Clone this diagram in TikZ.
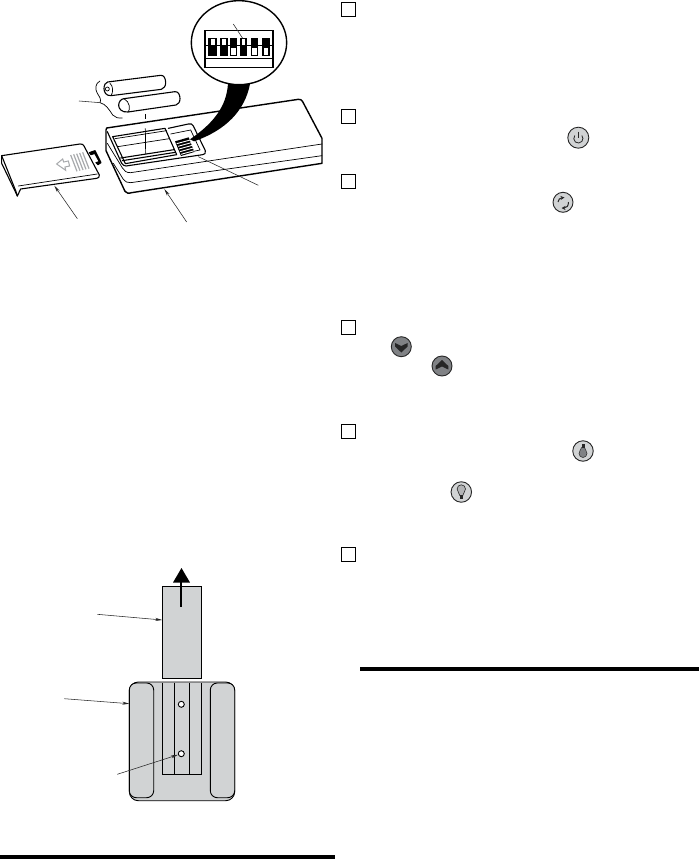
\documentclass[tikz,border=0pt]{standalone}
\usetikzlibrary{arrows.meta}
\definecolor{cardgray}{HTML}{D1D3D4}
\definecolor{dkbtn}{HTML}{808285}
\definecolor{stripe}{HTML}{A7A9AC}
\tikzset{
  ol/.style={line width=1.1pt,line join=round,line cap=round},
  th/.style={line width=0.7pt,line join=round,line cap=round},
  leader/.style={line width=0.55pt,-{Stealth[length=7pt,width=3pt]},black!85},
  plainleader/.style={line width=0.55pt,black!85},
  numbox/.style={draw,line width=1pt,minimum size=14pt,inner sep=0pt,fill=white},
  btn/.style={circle,draw=black!85,line width=0.9pt,fill=cardgray,inner sep=0pt},
  dkb/.style={circle,draw=black!85,line width=0.9pt,fill=dkbtn,inner sep=0pt},
  panel/.style={draw,line width=0.9pt,fill=cardgray},
}
\begin{document}
\begin{tikzpicture}[x=1pt,y=-1pt]
\useasboundingbox (0,0) rectangle (699,859);
\fill[white] (0,0) rectangle (699,859);

% ---------- remote, cover, batteries (coordinates from 3x crop)
\begin{scope}[scale=1/3]
  % body
  \draw[ol,line width=1.4pt] (318,390) -- (320,384) -- (895,298) .. controls (902,297) and (905,300) .. (908,305)
     -- (966,415) -- (966,490) -- (395,578) .. controls (385,581) and (380,580) .. (375,574)
     -- (318,452) -- cycle;
  \draw[th] (966,432) -- (392,518) .. controls (380,519) and (372,512) .. (368,505) -- (322,430);
  \draw[th] (966,467) -- (392,548) .. controls (382,549) and (375,545) .. (370,538) -- (340,490);
  % battery recess
  \draw[ol] (338,410) -- (495,385) -- (530,464) -- (376,491) -- cycle;
  \draw[th] (345,416) -- (500,392);
  \draw[ol] (362,474) -- (522,449);
  \draw[ol] (367,482) -- (526,457);
  \draw[th] (353,440) -- (508,416);
  % switch recess
  \draw[ol] (505,385) -- (565,372) .. controls (573,370) and (577,372) .. (580,378) -- (616,452)
     .. controls (618,460) and (614,463) .. (608,464) -- (378,498) .. controls (372,498) and (368,494) .. (365,490) -- (322,395);
  \draw[th] (512,402) -- (572,390) -- (600,450) -- (542,462);
  % small switches
  \fill[black] (525,424) -- (566,412) -- (583,456) -- (543,468) -- cycle;
  \draw[white,line width=0.9pt] (530,431) -- (571,420);
  \draw[white,line width=0.9pt] (534,439) -- (574,428);
  \draw[white,line width=0.9pt] (537,447) -- (577,436);
  \draw[white,line width=0.9pt] (540,455) -- (580,444);
  \draw[white,line width=0.9pt] (543,463) -- (583,452);
  % loupe tail
  \fill[black] (684,250) .. controls (680,320) and (640,370) .. (570,418)
     -- (582,424) .. controls (680,390) and (735,330) .. (750,252) -- cycle;
  % cover
  \draw[ol,fill=white] (5,467) -- (240,432) .. controls (247,431) and (250,434) .. (252,438)
     -- (298,525) .. controls (298,532) and (296,534) .. (290,535) -- (62,567) -- (52,588) -- (46,575) -- (5,490) -- cycle;
  \draw[ol] (5,467) -- (47,572) -- (52,588);
  \draw[th] (55,558) -- (292,522);
  \draw[ol,fill=black] (268,458) -- (285,452) -- (303,488) -- (294,494) -- (288,488) -- (298,485) -- (284,460) -- (273,464) -- cycle;
  % cover markings
  \foreach \a/\b/\c/\d in {212/465/231/514, 221/463/240/512, 230/461/249/510, 239/459/258/508, 248/457/267/506}{
    \draw[stripe,line width=1.2pt] (\a,\b) -- (\c,\d);
  }
  \draw[stripe,line width=1pt,line join=miter,fill=white] (170,492) -- (188,477) -- (191,486) -- (205,483) -- (209,498) -- (195,501) -- (197,511) -- cycle;
  % batteries
  \draw[ol,fill=white] (323,246) -- (482,226) .. controls (492,225) and (497,236) .. (497,248)
     .. controls (497,258) and (492,266) .. (484,268) -- (333,287) .. controls (318,288) and (312,276) .. (312,266)
     .. controls (312,256) and (316,247) .. (323,246) -- cycle;
  \draw[th] (330,250) .. controls (340,258) and (340,278) .. (333,287);
  \draw[th] (322,267) circle (6);
  \draw[ol,fill=white] (372,296) -- (525,275) .. controls (535,274) and (540,285) .. (540,296)
     .. controls (540,306) and (535,313) .. (528,315) -- (384,336) .. controls (364,338) and (356,325) .. (356,316)
     .. controls (356,306) and (362,297) .. (372,296) -- cycle;
  \draw[th] (372,296) .. controls (390,305) and (392,330) .. (384,336);
  % brace
  \draw[th] (300,243) .. controls (285,250) and (285,268) .. (292,280) .. controls (298,290) and (305,298) .. (300,308)
     .. controls (318,312) and (328,330) .. (338,345) .. controls (345,353) and (355,355) .. (367,354);
  % insertion guide
  \draw[line width=0.7pt] (436,342) -- (436,356);
  \draw[line width=0.7pt] (436,385) -- (437,462);
  % loupe
  \draw[line width=1.4pt,fill=white] (717,128) ellipse (143 and 126);
  % DIP block
  \draw[line width=1.5pt] (615,92) rectangle (819,202);
  \foreach \l/\r in {625/650,660/683,720/742}{
    \fill[black] (\l,113) rectangle (\r,168);
    \fill[white] (\l+7,118) rectangle (\r-6,135);
  }
  \foreach \l/\r in {690/712,752/775,787/810}{
    \fill[black] (\l,113) rectangle (\r,168);
    \fill[white] (\l+4,143) rectangle (\r-5,165);
  }
  \draw[th] (615,135) -- (819,135);
  \draw[line width=0.9pt] (615,175) -- (819,175);
  % leaders
  \coordinate (dipA) at (700,72); \coordinate (dipB) at (728,115);
  \coordinate (brA) at (237,303); \coordinate (brB) at (300,308);
  \coordinate (covA) at (232,656); \coordinate (covB) at (163,557);
  \coordinate (bodA) at (560,666); \coordinate (bodB) at (493,567);
  \coordinate (swA) at (775,556); \coordinate (swB) at (595,470);
  \draw[plainleader] (dipA) -- (dipB);
  \draw[plainleader] (brA) -- (brB);
  \draw[leader] (covA) -- (covB);
  \draw[leader] (bodA) -- (bodB);
  \draw[plainleader] (swA) -- (swB);
\end{scope}

% ---------- holder and card
\node[panel,minimum width=39.4pt,minimum height=92pt,inner sep=0pt] (card) at (182,632.3) {};
\draw[panel,rounded corners=9pt] (129.3,682) rectangle (234.7,800.7);
\draw[panel,rounded corners=7pt] (129.3,683) rectangle (153.7,797.7);
\draw[panel,rounded corners=7pt] (210.3,683) rectangle (234.7,797.7);
\draw[line width=0.9pt] (162.3,682.7) -- (162.3,774.3) -- (201.7,774.3) -- (201.7,682.7);
\draw[line width=0.9pt] (174.3,682.7) -- (174.3,774.3);
\draw[line width=0.9pt] (189.3,682.7) -- (189.3,774.3);
\node[circle,draw,line width=0.9pt,fill=white,minimum size=6pt,inner sep=0pt] (holeA) at (181.3,704.3) {};
\node[circle,draw,line width=0.9pt,fill=white,minimum size=6pt,inner sep=0pt] (holeB) at (181.3,753.7) {};
\coordinate (pullA) at (180.7,606.7); \coordinate (pullB) at (180.7,580);
\draw[line width=2pt] (pullA) -- (pullB);
\fill[black] (173,582.5) -- (181.5,568) -- (190,582.5) -- cycle;
\coordinate (cl) at (97.3,614.3); \coordinate (cr) at (162.3,620);
\draw[leader] (cl) -- (cr);
\coordinate (hl) at (64.3,698.7); \coordinate (hr) at (129.3,703.7);
\draw[leader] (hl) -- (hr);
\coordinate (sl) at (117.3,774.3);
\draw[leader] (sl) -- (holeB);

% ---------- rules
\fill[black] (0,855) rectangle (335,859);
\fill[black] (360,666.7) rectangle (699,671);

% ---------- step boxes
\node[numbox] (n1) at (348.3,9.3) {};
\node[numbox] (n2) at (348.3,116.5) {};
\node[numbox] (n3) at (348.3,181.5) {};
\node[numbox] (n4) at (348.3,327.3) {};
\node[numbox] (n5) at (348.3,431) {};
\node[numbox] (n6) at (348.3,554.5) {};

% ---------- buttons (y axis points down, so arc angles run on-screen clockwise)
\node[btn,minimum size=21pt] (power) at (578.3,137.7) {};
\draw[line width=0.8pt,black!85] (574.8,135.5) arc[start angle=220,end angle=-40,radius=4.6];
\draw[line width=0.8pt,black!85] (578.3,131.5) -- (578.3,138);
\node[btn,minimum size=20pt] (cyc) at (563,202.3) {};
\draw[line width=1pt,black!85,-{Stealth[length=4pt,width=4pt]}] (558,202) .. controls (558,199.5) and (560,198) .. (564.5,197.5);
\draw[line width=1pt,black!85,-{Stealth[length=4pt,width=4pt]}] (568.5,202) .. controls (568.5,206) and (566.5,208) .. (561.5,208);
\node[dkb,minimum size=20pt] (down) at (401.3,346.7) {};
\fill[black!85] (395,343) -- (401.3,346) -- (407.6,343) -- (407.6,346.5) -- (401.3,352.5) -- (395,346.5) -- cycle;
\node[dkb,minimum size=20pt] (up) at (442,366) {};
\fill[black!85] (435.7,369.5) -- (442,366.5) -- (448.3,369.5) -- (448.3,366) -- (442,360) -- (435.7,366) -- cycle;
\node[btn,minimum size=20.5pt] (lampD) at (583,451) {};
\fill[dkbtn,draw=black!85,line width=0.5pt] (581.5,447.5) -- (584.5,447.5) .. controls (585,450) and (587,451) .. (587,453.5) arc[start angle=0,end angle=180,radius=4] .. controls (579,451) and (581,450) .. (581.5,447.5) -- cycle;
\fill[black!85] (581.5,444) rectangle (584.5,447.5);
\node[btn,minimum size=20.5pt] (lampL) at (461.3,492) {};
\draw[fill=dkbtn!60,draw=black!85,line width=0.6pt] (459.8,495.5) -- (462.8,495.5) .. controls (463.2,492.5) and (465.5,491.5) .. (465.5,489) arc[start angle=0,end angle=-180,radius=4.2] .. controls (457.1,491.5) and (459.4,492.5) .. (459.8,495.5) -- cycle;
\fill[black!85] (459.8,495.5) rectangle (462.8,498.5);
\end{tikzpicture}
\end{document}
